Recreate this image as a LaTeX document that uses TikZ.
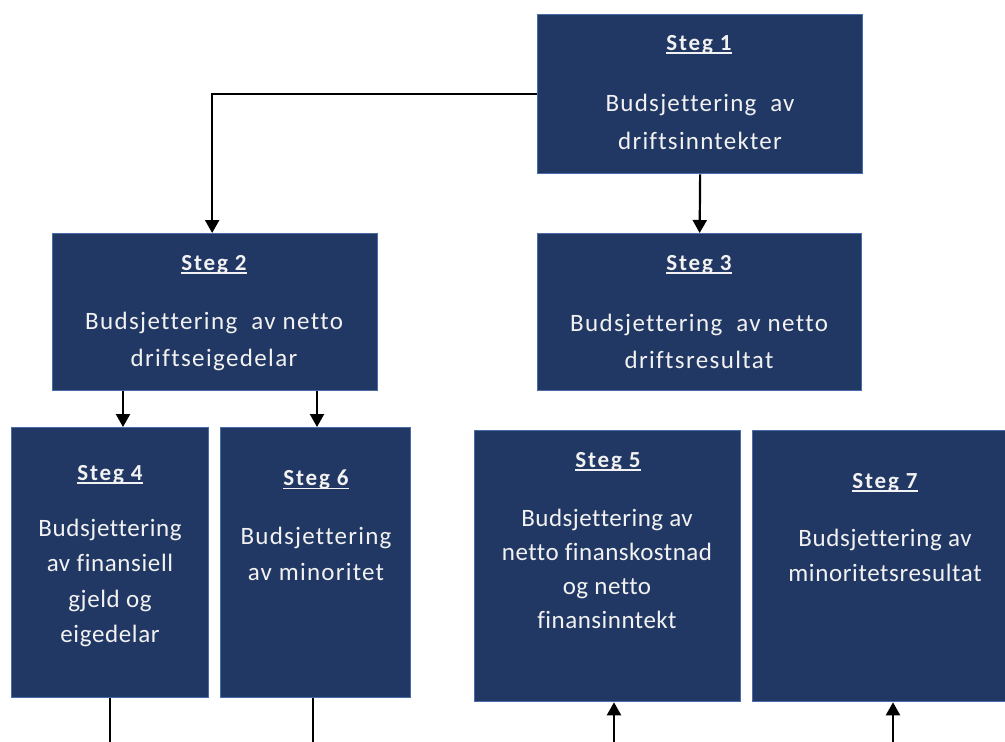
\documentclass[tikz,border=0pt]{standalone}
\usepackage{fontspec}
\setmainfont[Ligatures=NoCommon]{Carlito}
\usetikzlibrary{arrows.meta}
\definecolor{boxfill}{HTML}{223864}
\definecolor{boxedge}{HTML}{4A6CA8}
\definecolor{boxtext}{HTML}{F2F2F2}
% underline sitting just under the baseline
\newcommand\stegline[1]{\setbox0\hbox{#1}\rlap{\rule[-3pt]{\wd0}{1.4pt}}\box0}
\tikzset{
  stepbox/.style={draw=boxedge, line width=1.3pt, fill=boxfill, anchor=north west, inner sep=0pt},
  title/.style={text=boxtext, inner sep=0pt,
    font=\fontsize{23}{27}\selectfont\bfseries\addfontfeatures{LetterSpace=8}},
  body/.style 2 args={text=boxtext, align=center, inner sep=0pt,
    font=\fontsize{25}{#1}\selectfont\addfontfeatures{LetterSpace=#2}},
  arr/.style={line width=2.2pt, -{Triangle[width=14pt,length=13pt]}},
  ln/.style={line width=2.2pt},
}
\begin{document}
\begin{tikzpicture}[x=1pt,y=-1pt]
\useasboundingbox (0,0) rectangle (1005,742);
\clip (0,0) rectangle (1005,742);

% boxes
\node[stepbox, minimum width=325, minimum height=159] (s1) at (537,14) {};
\node[stepbox, minimum width=325, minimum height=157] (s2) at (52,233) {};
\node[stepbox, minimum width=324, minimum height=157] (s3) at (537,233) {};
\node[stepbox, minimum width=197, minimum height=270] (s4) at (11,427) {};
\node[stepbox, minimum width=190, minimum height=270] (s6) at (220,427) {};
\node[stepbox, minimum width=266, minimum height=271] (s5) at (474,430) {};
\node[stepbox, minimum width=266, minimum height=271] (s7) at (752,430) {};

% titles
\node[title] (t1) at (699,45) {\stegline{Steg 1}};
\node[title] (t2) at (214,265) {\stegline{Steg 2}};
\node[title] (t3) at (699,265) {\stegline{Steg 3}};
\node[title] (t4) at (110,475) {\stegline{Steg 4}};
\node[title] (t6) at (316,480) {\stegline{Steg 6}};
\node[title] (t5) at (608,462) {\stegline{Steg 5}};
\node[title] (t7) at (885,483) {\stegline{Steg 7}};

% body texts
\node[body={38}{5}] (b1) at (700,122) {Budsjettering~~av\\driftsinntekter};
\node[body={37}{5.5}] (b2) at (214,341.5) {Budsjettering~~av netto\\driftseigedelar};
\node[body={37}{5.5}] (b3) at (699,341.5) {Budsjettering~~av netto\\driftsresultat};
\node[body={35.3}{2.5}] (b4) at (110,583) {Budsjettering\\av finansiell\\gjeld og\\eigedelar};
\node[body={36}{5}] (b6) at (316,554) {Budsjettering\\av minoritet};
\node[body={34}{2}] (b5) at (607,569) {Budsjettering av\\netto finanskostnad\\og netto\\finansinntekt};
\node[body={35}{2.5}] (b7) at (885,555.5) {Budsjettering av\\minoritetsresultat};

% connector anchors
\coordinate (x4) at (123,0);
\coordinate (x6) at (317,0);
\coordinate (x5) at (614,0);
\coordinate (x7) at (893,0);
\coordinate (x4b) at (110,0);
\coordinate (x6b) at (313,0);
\coordinate (bottom) at (0,760);

% connectors
\draw[arr] (s1.west) -| ([xshift=-3]s2.north);
\draw[arr] (s1.south) -- (s3.north);
\draw[arr] (s2.south -| x4) -- (s4.north -| x4);
\draw[arr] (s2.south -| x6) -- (s6.north -| x6);
\draw[ln] (s4.south -| x4b) -- (bottom -| x4b);
\draw[ln] (s6.south -| x6b) -- (bottom -| x6b);
\draw[arr] (bottom -| x5) -- (s5.south -| x5);
\draw[arr] (bottom -| x7) -- (s7.south -| x7);
\end{tikzpicture}
\end{document}
